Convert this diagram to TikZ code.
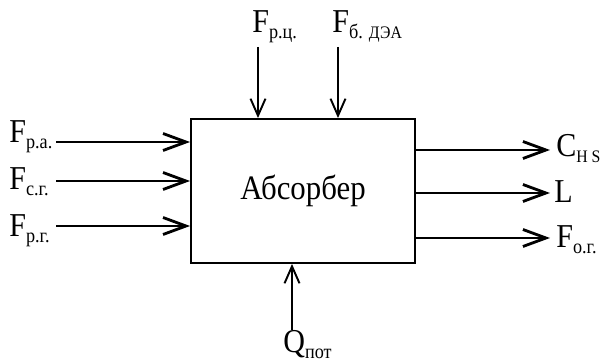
\documentclass[tikz,border=0pt]{standalone}
\usepackage{fontspec}
\setmainfont[FakeStretch=0.9]{Liberation Serif}
\usetikzlibrary{arrows.meta,positioning}
\newcommand{\sbs}[1]{\raisebox{-3pt}{\fontsize{11.5}{13}\selectfont #1}}
\newcommand{\sbc}[1]{{\fontsize{10}{11}\selectfont #1}}

\begin{document}
\begin{tikzpicture}[x=0.02cm, y=-0.02cm,
    lbl/.style={font=\fontsize{19}{22}\selectfont, inner sep=0pt},
    box/.style={draw, line width=1.1pt, minimum width=4.48cm, minimum height=2.88cm, font=\fontsize{19.5}{22}\selectfont},
    harr/.style={line width=1.6pt, -{Straight Barb[length=0.46cm, width=0.34cm]}},
    varr/.style={line width=1.1pt, -{Straight Barb[length=0.34cm, width=0.3cm]}}]
    \useasboundingbox (0,0) rectangle (606,364);
    % Absorber
    \node[box] (abs) at (303,191) {Абсорбер};
    % Inputs (left)
    \coordinate (ra) at (56,142);
    \coordinate (sg) at (56,181);
    \coordinate (rg) at (56,226);
    \node[lbl, anchor=base west] (fra) at (9,143) {F\sbs{р.а.}};
    \node[lbl, anchor=base west] (fsg) at (9,190) {F\sbs{с.г.}};
    \node[lbl, anchor=base west] (frg) at (9,237) {F\sbs{р.г.}};
    \draw[harr] (ra) -- (ra -| abs.west);
    \draw[harr] (sg) -- (sg -| abs.west);
    \draw[harr] (rg) -- (rg -| abs.west);
    % Inputs (top)
    \coordinate (rc) at (258,47);
    \coordinate (dea) at (338,47);
    \node[lbl, anchor=base west] (frc) at (252,33) {F\sbs{р.ц.}};
    \node[lbl, anchor=base west] (fdea) at (332,33) {F\sbs{б. \sbc{ДЭА}}};
    \draw[varr] (rc) -- (rc |- abs.north);
    \draw[varr] (dea) -- (dea |- abs.north);
    % Heat loss (bottom)
    \coordinate (pot) at (292,330);
    \node[lbl, anchor=base west] (qpot) at (283,353) {Q\sbs{пот}};
    \draw[varr] (pot) -- (pot |- abs.south);
    % Outputs (right)
    \coordinate (hs) at (550,150);
    \coordinate (ll) at (550,193);
    \coordinate (og) at (550,238);
    \node[lbl, anchor=base west] (chs) at (556,157) {C\sbs{\sbc{H S}}};
    \node[lbl, anchor=base west] (lout) at (554,203) {L};
    \node[lbl, anchor=base west] (fog) at (556,248) {F\sbs{о.г.}};
    \draw[harr] (abs.east |- hs) -- (hs);
    \draw[harr] (abs.east |- ll) -- (ll);
    \draw[harr] (abs.east |- og) -- (og);
\end{tikzpicture}
\end{document}
